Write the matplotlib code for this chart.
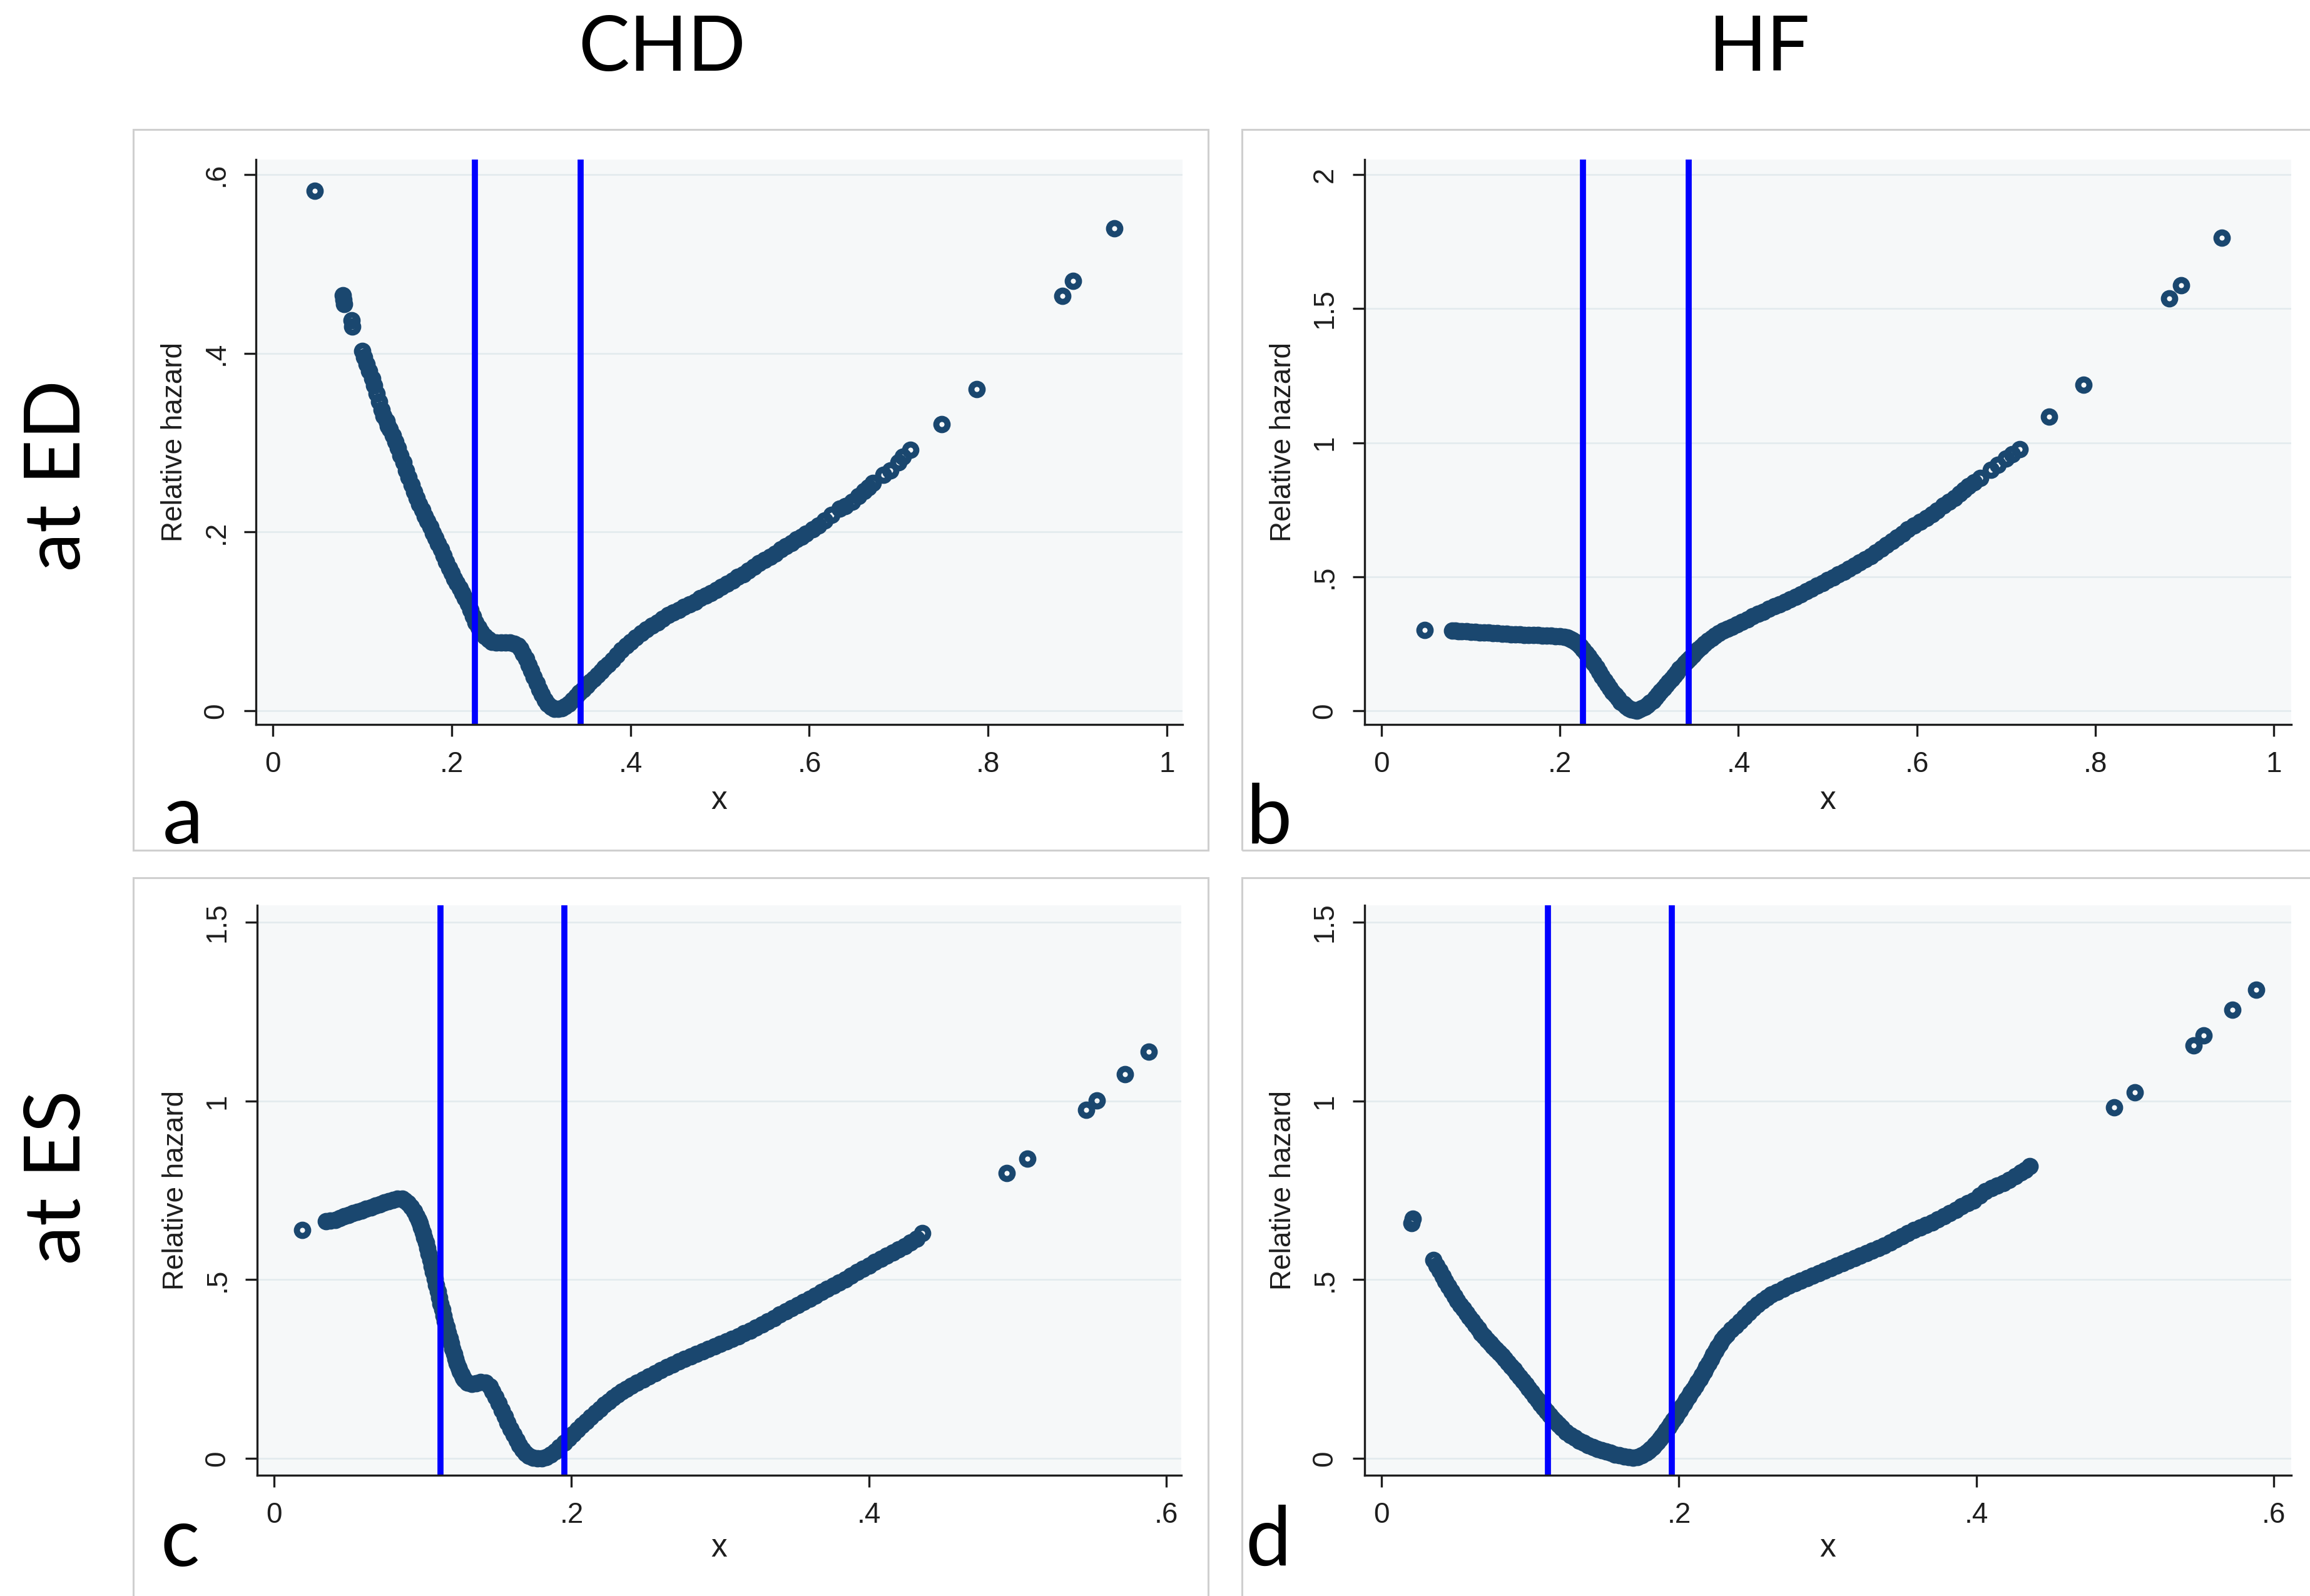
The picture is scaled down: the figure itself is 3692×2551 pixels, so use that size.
import matplotlib
matplotlib.use("Agg")
import matplotlib.pyplot as plt
from matplotlib.patches import Rectangle

# ---------------------------------------------------------------- data
# Cut points (vertical reference lines)
cuts_ed = [0.226, 0.344]
cuts_es = [0.112, 0.195]

# Panel a: CHD at ED
x_a = [0.047, 0.078, 0.079, 0.080, 0.088, 0.089, 0.100, 0.102, 0.105, 0.108,
       0.111, 0.113, 0.116, 0.119, 0.122, 0.124, 0.127, 0.129,
       0.131, 0.134, 0.137, 0.140, 0.143, 0.146, 0.149, 0.152, 0.155, 0.158,
       0.161, 0.164, 0.167, 0.170, 0.173, 0.176, 0.179, 0.182, 0.185, 0.188,
       0.191, 0.194, 0.197, 0.200, 0.203, 0.206, 0.209, 0.212, 0.215, 0.218,
       0.221, 0.224, 0.227, 0.230, 0.233, 0.237, 0.241, 0.245, 0.250, 0.255,
       0.260, 0.265, 0.270, 0.274, 0.277, 0.280, 0.283, 0.286, 0.289, 0.292,
       0.295, 0.298, 0.301, 0.304, 0.307, 0.311, 0.315, 0.319, 0.323, 0.327,
       0.331, 0.335, 0.339, 0.343, 0.347, 0.351, 0.355, 0.359, 0.363, 0.367,
       0.371, 0.375, 0.380, 0.385, 0.390, 0.395, 0.400, 0.406, 0.412, 0.418,
       0.424, 0.430, 0.436, 0.442, 0.448, 0.454, 0.460, 0.466, 0.472, 0.478,
       0.484, 0.490, 0.496, 0.502, 0.508, 0.514, 0.520, 0.526, 0.532, 0.538,
       0.544, 0.550, 0.556, 0.562, 0.568, 0.574, 0.580, 0.586, 0.591, 0.596,
       0.604, 0.610, 0.617, 0.625, 0.634, 0.640, 0.648, 0.655, 0.661, 0.666,
       0.671, 0.683, 0.691, 0.700, 0.705, 0.713, 0.748, 0.787, 0.883, 0.895,
       0.941]
y_a = [0.582, 0.465, 0.460, 0.455, 0.437, 0.430, 0.403, 0.396, 0.388, 0.380,
       0.372, 0.364, 0.355, 0.346, 0.337, 0.330, 0.324, 0.319,
       0.315, 0.308, 0.301, 0.294, 0.286, 0.278, 0.269, 0.261, 0.253, 0.245,
       0.238, 0.231, 0.225, 0.218, 0.212, 0.206, 0.199, 0.193, 0.187, 0.181,
       0.174, 0.167, 0.160, 0.154, 0.148, 0.143, 0.137, 0.132, 0.126, 0.120,
       0.113, 0.106, 0.099, 0.093, 0.088, 0.083, 0.080, 0.077, 0.076, 0.076,
       0.076, 0.076, 0.075, 0.073, 0.069, 0.064, 0.058, 0.051, 0.045, 0.038,
       0.031, 0.024, 0.018, 0.012, 0.008, 0.004, 0.002, 0.002, 0.003, 0.005,
       0.008, 0.012, 0.016, 0.020, 0.024, 0.028, 0.032, 0.036, 0.040, 0.044,
       0.048, 0.052, 0.057, 0.062, 0.068, 0.073, 0.077, 0.082, 0.087, 0.091,
       0.095, 0.099, 0.103, 0.107, 0.110, 0.113, 0.116, 0.119, 0.122, 0.126,
       0.129, 0.132, 0.135, 0.139, 0.142, 0.146, 0.150, 0.153, 0.157, 0.161,
       0.165, 0.169, 0.172, 0.176, 0.181, 0.184, 0.188, 0.192, 0.195, 0.198,
       0.203, 0.207, 0.213, 0.219, 0.226, 0.229, 0.234, 0.240, 0.246, 0.250,
       0.255, 0.264, 0.269, 0.278, 0.284, 0.292, 0.321, 0.360, 0.464, 0.481,
       0.540]

# Panel b: HF at ED
x_b = [0.048, 0.079, 0.083, 0.086, 0.090, 0.095, 0.100, 0.105, 0.110, 0.115,
       0.120, 0.125, 0.130, 0.135, 0.140, 0.145, 0.150, 0.155, 0.160, 0.165,
       0.170, 0.175, 0.180, 0.185, 0.190, 0.195, 0.200,
       0.205, 0.208, 0.211, 0.214, 0.217, 0.220, 0.223, 0.226, 0.229, 0.232,
       0.235, 0.238, 0.241, 0.244, 0.247, 0.250, 0.253, 0.256, 0.259, 0.262,
       0.265, 0.268, 0.271, 0.274, 0.277, 0.280, 0.283, 0.286, 0.289, 0.292,
       0.295, 0.298, 0.301, 0.304, 0.307, 0.310, 0.313, 0.316, 0.319, 0.322,
       0.325, 0.328, 0.331, 0.334, 0.337, 0.340, 0.343, 0.346, 0.349, 0.352,
       0.355, 0.358, 0.362, 0.366, 0.370, 0.374, 0.378, 0.383, 0.388, 0.393,
       0.398, 0.404, 0.410, 0.416, 0.422, 0.428, 0.434, 0.440, 0.446, 0.452,
       0.458, 0.464, 0.470, 0.476, 0.482, 0.488, 0.494, 0.500, 0.506, 0.512,
       0.518, 0.524, 0.530, 0.536, 0.542, 0.548, 0.554, 0.560, 0.566, 0.572,
       0.578, 0.584, 0.590, 0.597, 0.604, 0.611, 0.617, 0.623, 0.630, 0.636,
       0.642, 0.648, 0.653, 0.658, 0.664, 0.671, 0.683, 0.691, 0.700, 0.707,
       0.715, 0.748, 0.787, 0.883, 0.896, 0.942]
y_b = [0.301, 0.300, 0.298, 0.297, 0.297, 0.296, 0.295, 0.294, 0.293, 0.292,
       0.291, 0.290, 0.289, 0.288, 0.287, 0.286, 0.285, 0.284, 0.283, 0.283,
       0.282, 0.282, 0.281, 0.281, 0.280, 0.279, 0.278,
       0.276, 0.273, 0.269, 0.264, 0.257, 0.249, 0.240, 0.229, 0.216, 0.203,
       0.190, 0.178, 0.162, 0.146, 0.129, 0.113, 0.098, 0.084, 0.071, 0.058,
       0.046, 0.034, 0.025, 0.017, 0.010, 0.005, 0.002, 0.001, 0.004, 0.009,
       0.015, 0.022, 0.030, 0.038, 0.049, 0.060, 0.072, 0.085, 0.097, 0.108,
       0.119, 0.131, 0.143, 0.156, 0.167, 0.178, 0.187, 0.197, 0.208, 0.219,
       0.229, 0.239, 0.251, 0.262, 0.271, 0.280, 0.289, 0.298, 0.306, 0.314,
       0.322, 0.332, 0.342, 0.352, 0.361, 0.370, 0.380, 0.389, 0.398, 0.407,
       0.416, 0.425, 0.435, 0.445, 0.455, 0.466, 0.477, 0.487, 0.498, 0.508,
       0.519, 0.530, 0.541, 0.553, 0.565, 0.577, 0.590, 0.604, 0.618, 0.632,
       0.646, 0.660, 0.676, 0.690, 0.705, 0.719, 0.733, 0.748, 0.766, 0.779,
       0.793, 0.810, 0.825, 0.838, 0.852, 0.868, 0.898, 0.918, 0.940, 0.958,
       0.976, 1.096, 1.216, 1.537, 1.586, 1.764]

# Panel c: CHD at ES
x_c = [0.019, 0.035, 0.038,
       0.041, 0.044, 0.047, 0.050, 0.053, 0.056, 0.059, 0.062, 0.065, 0.068,
       0.071, 0.074, 0.077, 0.080, 0.083, 0.086, 0.088, 0.090, 0.092, 0.094,
       0.096, 0.097, 0.098, 0.099, 0.100, 0.101, 0.102, 0.103, 0.104, 0.105,
       0.106, 0.107, 0.108, 0.109, 0.110, 0.111, 0.112, 0.113, 0.114, 0.115,
       0.116, 0.117, 0.118, 0.119, 0.120, 0.121, 0.122, 0.123, 0.124, 0.125,
       0.126, 0.127, 0.128, 0.130, 0.133, 0.136,
       0.139, 0.142, 0.145, 0.147, 0.149, 0.151, 0.153, 0.155, 0.157, 0.159,
       0.161, 0.163, 0.165, 0.167, 0.169, 0.171, 0.174, 0.177, 0.180, 0.183,
       0.186, 0.189, 0.192, 0.195, 0.198, 0.201, 0.204, 0.207, 0.210, 0.213,
       0.216, 0.219, 0.222, 0.225, 0.228, 0.231, 0.234, 0.237, 0.240, 0.244,
       0.248, 0.252, 0.256, 0.260, 0.264, 0.268, 0.272, 0.276, 0.280, 0.284,
       0.288, 0.292, 0.296, 0.300, 0.304, 0.308, 0.312, 0.316, 0.320, 0.324,
       0.328, 0.332, 0.336, 0.340, 0.344, 0.348, 0.352, 0.356, 0.360, 0.364,
       0.368, 0.372, 0.376, 0.380, 0.384, 0.388, 0.392, 0.396, 0.400, 0.404,
       0.408, 0.412, 0.416, 0.420, 0.424, 0.428, 0.432, 0.436,
       0.4925, 0.5065, 0.546, 0.553, 0.572, 0.588]
y_c = [0.639, 0.663, 0.665,
       0.668, 0.673, 0.677, 0.682, 0.686, 0.690, 0.694, 0.698, 0.703, 0.707,
       0.711, 0.716, 0.720, 0.724, 0.727, 0.727, 0.722, 0.714, 0.704, 0.692,
       0.677, 0.668, 0.658, 0.646, 0.632, 0.618, 0.604, 0.588, 0.572, 0.555,
       0.538, 0.521, 0.503, 0.485, 0.467, 0.450, 0.433, 0.416, 0.400, 0.384,
       0.368, 0.352, 0.337, 0.322, 0.307, 0.293, 0.279, 0.266, 0.254, 0.243,
       0.234, 0.226, 0.220, 0.212, 0.208, 0.210,
       0.213, 0.212, 0.201, 0.188, 0.172, 0.154, 0.134, 0.117, 0.099, 0.082,
       0.066, 0.050, 0.036, 0.024, 0.014, 0.007, 0.002, 0.000, 0.000, 0.004,
       0.011, 0.020, 0.031, 0.043, 0.056, 0.068, 0.080, 0.092, 0.103, 0.115,
       0.127, 0.139, 0.150, 0.160, 0.169, 0.178, 0.187, 0.195, 0.203, 0.212,
       0.221, 0.230, 0.239, 0.247, 0.255, 0.263, 0.271, 0.279, 0.286, 0.293,
       0.300, 0.307, 0.314, 0.321, 0.328, 0.335, 0.342, 0.350, 0.358, 0.366,
       0.375, 0.384, 0.393, 0.402, 0.411, 0.420, 0.429, 0.438, 0.447, 0.456,
       0.465, 0.474, 0.483, 0.492, 0.501, 0.511, 0.521, 0.531, 0.540, 0.549,
       0.558, 0.567, 0.576, 0.585, 0.594, 0.604, 0.614, 0.630,
       0.799, 0.839, 0.975, 1.001, 1.076, 1.138]

# Panel d: HF at ES
x_d = [0.020, 0.021,
       0.035, 0.037, 0.039, 0.041, 0.043, 0.045, 0.047, 0.049, 0.051, 0.053,
       0.055, 0.057, 0.059, 0.061, 0.063, 0.065, 0.067, 0.069, 0.071, 0.073,
       0.075, 0.077, 0.079, 0.081, 0.083, 0.085, 0.087, 0.089, 0.091, 0.093,
       0.095, 0.097, 0.099, 0.101, 0.103, 0.105, 0.107, 0.109, 0.111, 0.113,
       0.115, 0.117, 0.119, 0.121, 0.124, 0.127, 0.130, 0.133, 0.136, 0.139,
       0.142, 0.145, 0.148, 0.151, 0.154, 0.157, 0.160, 0.163, 0.166, 0.169,
       0.172, 0.175, 0.178, 0.1795, 0.181, 0.1825, 0.184, 0.1855, 0.187,
       0.1885, 0.190, 0.1915, 0.193, 0.1945, 0.196, 0.1975, 0.199, 0.2005,
       0.202, 0.2035, 0.205, 0.2065, 0.208, 0.2095, 0.211, 0.2125, 0.214,
       0.2155, 0.217, 0.2185, 0.220, 0.2215, 0.223, 0.2245, 0.226, 0.2275,
       0.229, 0.2305, 0.232, 0.235, 0.238, 0.241, 0.244, 0.247, 0.250, 0.253,
       0.256, 0.259,
       0.262, 0.266, 0.270, 0.274, 0.278, 0.282, 0.286, 0.290, 0.294, 0.298,
       0.302, 0.306, 0.310, 0.314, 0.318, 0.322, 0.326, 0.330, 0.334, 0.338,
       0.342, 0.346, 0.350, 0.354, 0.358, 0.362, 0.366, 0.370, 0.374, 0.378,
       0.382, 0.386, 0.390, 0.394, 0.398, 0.402, 0.406, 0.410, 0.414, 0.418,
       0.422, 0.426, 0.430, 0.433, 0.436,
       0.4925, 0.5065, 0.546, 0.553, 0.572, 0.588]
y_d = [0.659, 0.670,
       0.555, 0.540, 0.525, 0.510, 0.495, 0.481, 0.467, 0.454, 0.441, 0.429,
       0.418, 0.407, 0.396, 0.385, 0.373, 0.362, 0.351, 0.341, 0.331, 0.322,
       0.313, 0.304, 0.296, 0.288, 0.278, 0.268, 0.258, 0.248, 0.238, 0.228,
       0.217, 0.207, 0.196, 0.185, 0.174, 0.163, 0.152, 0.141, 0.131, 0.121,
       0.112, 0.103, 0.094, 0.085, 0.074, 0.065, 0.057, 0.049, 0.043, 0.037,
       0.032, 0.027, 0.023, 0.019, 0.015, 0.011, 0.008, 0.005, 0.003, 0.002,
       0.004, 0.008, 0.016, 0.021, 0.026, 0.032, 0.039, 0.046, 0.054,
       0.062, 0.070, 0.079, 0.088, 0.097, 0.107, 0.116, 0.126, 0.135,
       0.145, 0.154, 0.164, 0.174, 0.184, 0.193, 0.203, 0.213, 0.223,
       0.233, 0.244, 0.255, 0.266, 0.278, 0.290, 0.301, 0.311, 0.321,
       0.331, 0.339, 0.347, 0.360, 0.372, 0.384, 0.396, 0.408, 0.420, 0.431,
       0.441, 0.450,
       0.459, 0.466, 0.474, 0.484, 0.491, 0.498, 0.505, 0.512, 0.519, 0.526,
       0.533, 0.540, 0.547, 0.554, 0.561, 0.568, 0.575, 0.582, 0.588, 0.596,
       0.604, 0.613, 0.622, 0.630, 0.639, 0.646, 0.653, 0.660, 0.669, 0.678,
       0.686, 0.696, 0.706, 0.714, 0.722, 0.735, 0.747, 0.756, 0.763, 0.770,
       0.780, 0.790, 0.800, 0.808, 0.818,
       0.982, 1.025, 1.156, 1.184, 1.255, 1.312]

col_titles = ["CHD", "HF"]
row_titles = ["at ED", "at ES"]
panel_letters = ["a", "b", "c", "d"]

xticks_ed = [0, 0.2, 0.4, 0.6, 0.8, 1.0]
xticklabels_ed = ["0", ".2", ".4", ".6", ".8", "1"]
xticks_es = [0, 0.2, 0.4, 0.6]
xticklabels_es = ["0", ".2", ".4", ".6"]
yticks_a = [0, 0.2, 0.4, 0.6]
yticklabels_a = ["0", ".2", ".4", ".6"]
yticks_b = [0, 0.5, 1.0, 1.5, 2.0]
yticklabels_b = ["0", ".5", "1", "1.5", "2"]
yticks_cd = [0, 0.5, 1.0, 1.5]
yticklabels_cd = ["0", ".5", "1", "1.5"]

# ---------------------------------------------------------------- style
W, H = 3692, 2551
DPI = 100
NAVY = "#1A476F"
PLOT_BG = "#F6F8F9"
GRID = "#E3EBEE"
AXIS_FONT = ["Liberation Sans Narrow", "Liberation Sans", "DejaVu Sans"]
BIG_FONT = ["Lato", "DejaVu Sans"]

fig = plt.figure(figsize=(W / DPI, H / DPI), dpi=DPI)
fig.patch.set_facecolor("white")


def px_rect(left, top, right, bottom):
    return [left / W, 1 - bottom / H, (right - left) / W, (bottom - top) / H]


# light panel frames
for (l, t, r, b) in [(213, 207, 1931, 1359), (1985, 207, 3710, 1359),
                     (213, 1403, 1931, 2570), (1985, 1403, 3710, 2570)]:
    fig.patches.append(Rectangle((l / W, 1 - b / H), (r - l) / W, (b - t) / H,
                                 transform=fig.transFigure, fill=False,
                                 edgecolor="#CFCFCF", linewidth=2.2))

panels = [
    dict(rect=px_rect(409, 255, 1890, 1158), x=x_a, y=y_a, cuts=cuts_ed,
         xlim=(-0.019, 1.0175), ylim=(-0.0154, 0.617),
         xt=xticks_ed, xtl=xticklabels_ed, yt=yticks_a, ytl=yticklabels_a,
         xlab_y=-0.134),
    dict(rect=px_rect(2181, 255, 3662, 1158), x=x_b, y=y_b, cuts=cuts_ed,
         xlim=(-0.019, 1.0196), ylim=(-0.051, 2.056),
         xt=xticks_ed, xtl=xticklabels_ed, yt=yticks_b, ytl=yticklabels_b,
         xlab_y=-0.134),
    dict(rect=px_rect(411, 1447, 1888, 2358), x=x_c, y=y_c, cuts=cuts_es,
         xlim=(-0.0114, 0.6100), ylim=(-0.0473, 1.548),
         xt=xticks_es, xtl=xticklabels_es, yt=yticks_cd, ytl=yticklabels_cd,
         xlab_y=-0.128),
    dict(rect=px_rect(2181, 1447, 3662, 2358), x=x_d, y=y_d, cuts=cuts_es,
         xlim=(-0.0114, 0.6117), ylim=(-0.0473, 1.548),
         xt=xticks_es, xtl=xticklabels_es, yt=yticks_cd, ytl=yticklabels_cd,
         xlab_y=-0.128),
]

for p in panels:
    ax = fig.add_axes(p["rect"])
    ax.set_facecolor(PLOT_BG)
    ax.set_xlim(*p["xlim"])
    ax.set_ylim(*p["ylim"])
    ax.set_axisbelow(True)
    ax.yaxis.grid(True, color=GRID, linewidth=2.0)
    ax.xaxis.grid(False)

    # hollow circles with a heavy rim
    ax.plot(p["x"], p["y"], linestyle="none", marker="o", markersize=13,
            markeredgewidth=7, markerfacecolor="none",
            markeredgecolor=NAVY, zorder=2)
    for c in p["cuts"]:
        ax.axvline(c, color="#0000FF", linewidth=7.0, zorder=3)

    for side in ("top", "right"):
        ax.spines[side].set_visible(False)
    for side in ("left", "bottom"):
        ax.spines[side].set_linewidth(2.4)
        ax.spines[side].set_color("#1E1E1E")
        ax.spines[side].set_zorder(4)

    ax.set_xticks(p["xt"])
    ax.set_xticklabels(p["xtl"], fontfamily=AXIS_FONT, fontsize=33)
    ax.set_yticks(p["yt"])
    ax.set_yticklabels(p["ytl"], fontfamily=AXIS_FONT, fontsize=33,
                       rotation=90, va="center")
    ax.tick_params(axis="both", length=14, width=2.4, color="#1E1E1E",
                   pad=16, labelcolor="#1E1E1E")

    ax.text(-0.088, 0.5, "Relative hazard", transform=ax.transAxes,
            rotation=90, ha="center", va="center", fontsize=33,
            fontfamily=AXIS_FONT, color="#1E1E1E")
    ax.text(0.5, p["xlab_y"], "x", transform=ax.transAxes, ha="center",
            va="center", fontsize=37, fontfamily=AXIS_FONT, color="#1E1E1E")

# column titles
for title, cx in zip(col_titles, [1058, 2812]):
    fig.text(cx / W, 1 - 113 / H, title, ha="center", va="baseline",
             fontsize=88, fontfamily=BIG_FONT, color="black")

# row titles
for title, cy in zip(row_titles, [760, 1882]):
    fig.text(128 / W, 1 - cy / H, title, ha="center", va="baseline",
             rotation=90, rotation_mode="anchor", fontsize=90,
             fontfamily=BIG_FONT, color="black")

# panel letters
for letter, (lx, by) in zip(panel_letters,
                            [(260, 1348), (1992, 1348), (256, 2503), (1990, 2502)]):
    fig.text(lx / W, 1 - by / H, letter, ha="left", va="baseline",
             fontsize=94, fontfamily=BIG_FONT, color="black")

fig.savefig("out.png", dpi=DPI, facecolor="white")
